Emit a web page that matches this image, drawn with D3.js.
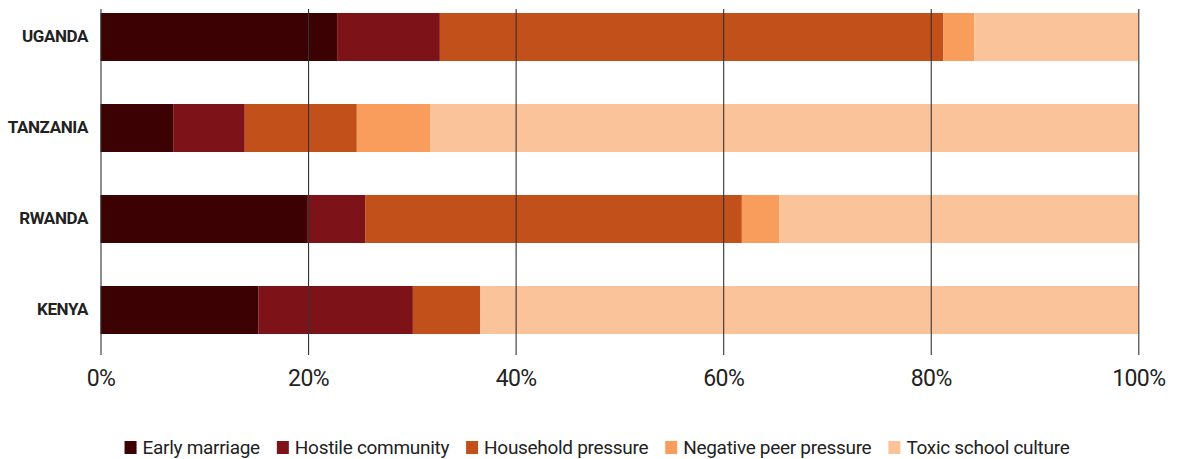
<!DOCTYPE html>
<html>
<head>
<meta charset="utf-8">
<script src="https://cdn.jsdelivr.net/npm/d3@7"></script>
<style>
  html, body { margin: 0; padding: 0; background: #fff; }
  svg { display: block; }
</style>
</head>
<body>
<svg id="chart" width="1180" height="459"></svg>
<script>
const countries = ["UGANDA", "TANZANIA", "RWANDA", "KENYA"];
const seriesNames = ["Early marriage", "Hostile community", "Household pressure", "Negative peer pressure", "Toxic school culture"];
const earlyMarriage     = [22.8, 7.0, 19.9, 15.2];
const hostileCommunity  = [9.9, 6.9, 5.6, 14.9];
const householdPressure = [48.5, 10.8, 36.3, 6.5];
const negativePeer      = [3.0, 7.1, 3.6, 0.0];
const toxicSchool       = [15.8, 68.2, 34.6, 63.4];
const tickValues = [0, 20, 40, 60, 80, 100];
const colors = ["#3c0103", "#7d1318", "#c1501b", "#f89d5b", "#fbc39a"];

const seriesValues = [earlyMarriage, hostileCommunity, householdPressure, negativePeer, toxicSchool];
const rows = countries.map((c, i) => {
  const r = { country: c };
  seriesNames.forEach((s, j) => r[s] = seriesValues[j][i]);
  return r;
});

const svg = d3.select("#chart");
const x = d3.scaleLinear().domain([0, 100]).range([100.5, 1138.3]);
const y = d3.scaleBand().domain(countries).range([13, 334]).paddingInner(43 / 91).paddingOuter(0);

const stacked = d3.stack().keys(seriesNames)(rows);
const color = d3.scaleOrdinal().domain(seriesNames).range(colors);

svg.append("g").selectAll("g")
  .data(stacked).join("g")
  .attr("fill", d => color(d.key))
  .selectAll("rect")
  .data(d => d).join("rect")
  .attr("x", d => x(d[0]))
  .attr("width", d => Math.max(0, x(d[1]) - x(d[0])))
  .attr("y", d => y(d.data.country))
  .attr("height", y.bandwidth());

// gridlines + tick labels
const xAxis = d3.axisBottom(x).tickValues(tickValues).tickFormat(d => d + "%").tickSize(346).tickPadding(15);
const gx = svg.append("g").attr("transform", "translate(0,9)").call(xAxis);
gx.select(".domain").remove();
gx.selectAll(".tick line").attr("stroke", "#333").attr("stroke-width", 1.1);
gx.selectAll(".tick text")
  .attr("fill", "#222")
  .style("font-family", "Roboto, sans-serif")
  .style("font-weight", "400")
  .style("letter-spacing", "-0.6px")
  .style("font-size", "23px");

// y labels
const yAxis = d3.axisLeft(y).tickSize(0).tickPadding(12);
const gy = svg.append("g").attr("transform", "translate(100,0)").call(yAxis);
gy.select(".domain").remove();
gy.selectAll(".tick text")
  .attr("fill", "#222")
  .style("font-family", "Roboto, sans-serif")
  .style("font-weight", "700")
  .style("letter-spacing", "-0.4px")
  .style("font-size", "17px");

// legend
const legend = svg.append("g").attr("class", "legend");
const items = legend.selectAll("g").data(seriesNames).join("g");
items.append("rect").attr("width", 12).attr("height", 13).attr("y", -13).attr("fill", d => color(d));
items.append("text").text(d => d).attr("x", 18).attr("y", 0)
  .attr("fill", "#222")
  .style("font-family", "Roboto, sans-serif")
  .style("letter-spacing", "-0.3px")
  .style("font-size", "19px");
let cx = 0;
items.each(function() {
  const g = d3.select(this);
  const w = 18 + g.select("text").node().getComputedTextLength();
  g.attr("transform", `translate(${cx},0)`);
  cx += w + 17;
});
const total = cx - 17;
legend.attr("transform", `translate(${597 - total / 2},454)`);
</script>
</body>
</html>
